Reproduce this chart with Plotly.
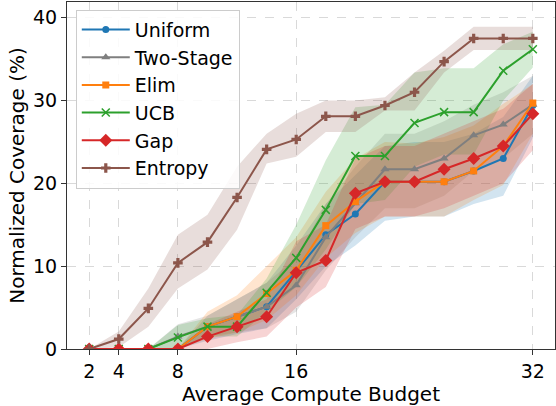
import plotly.graph_objects as go

budget = [2, 4, 6, 8, 10, 12, 14, 16, 18, 20, 22, 24, 26, 28, 30, 32]

uniform = [0, 0, 0, 0, 2.7, 3.9, 5.1, 9.4, 13.8, 16.3, 20.2, 20.2, 20.2, 21.5, 23.0, 29.4]
uniform_lo = [0, 0, 0, 0, 1.0, 1.8, 2.5, 6.0, 10.0, 12.5, 15.5, 16.0, 16.0, 17.5, 18.5, 25.5]
uniform_hi = [0, 0, 0, 0, 4.0, 6.0, 8.0, 12.5, 17.5, 21.0, 24.5, 25.0, 25.0, 26.0, 28.0, 33.0]

two_stage = [0, 0, 0, 1.5, 2.7, 3.9, 5.1, 7.7, 13.5, 17.6, 21.7, 21.7, 23.0, 25.8, 27.1, 29.5]
two_stage_lo = [0, 0, 0, 0, 1.5, 2.0, 2.5, 4.5, 9.5, 13.5, 17.0, 17.0, 18.5, 21.5, 23.0, 26.0]
two_stage_hi = [0, 0, 0, 3.0, 4.0, 6.0, 8.0, 11.0, 17.5, 22.0, 26.0, 26.0, 27.5, 29.5, 31.0, 33.0]

elim = [0, 0, 0, 0, 2.7, 3.9, 6.7, 9.5, 14.9, 17.8, 20.2, 20.2, 20.2, 21.5, 24.5, 29.7]
elim_lo = [0, 0, 0, 0, 1.2, 2.0, 3.5, 6.5, 11.0, 14.0, 16.0, 16.0, 16.0, 18.0, 19.8, 26.0]
elim_hi = [0, 0, 0, 0, 4.5, 6.5, 10.0, 13.5, 19.0, 23.0, 25.0, 24.8, 25.6, 27.0, 29.6, 32.0]

ucb = [0, 0, 0, 1.4, 2.7, 2.7, 6.8, 11.0, 16.8, 23.3, 23.3, 27.3, 28.6, 28.6, 33.6, 36.2]
ucb_lo = [0, 0, 0, 0, 1.5, 1.5, 4.5, 7.5, 12.0, 17.5, 18.0, 22.0, 23.5, 23.5, 30.0, 34.0]
ucb_hi = [0, 0, 0, 2.9, 3.7, 4.1, 8.5, 15.0, 22.8, 29.2, 29.5, 33.4, 33.9, 33.9, 36.8, 38.3]

gap = [0, 0, 0, 0, 1.5, 2.7, 3.9, 9.2, 10.7, 18.8, 20.2, 20.2, 21.7, 23.0, 24.5, 28.4]
gap_lo = [0, 0, 0, 0, 0, 0.8, 1.5, 5.0, 7.5, 14.5, 16.0, 16.0, 17.0, 18.5, 20.0, 24.0]
gap_hi = [0, 0, 0, 0, 3.0, 4.5, 6.0, 13.0, 15.0, 23.0, 24.5, 24.5, 26.0, 27.5, 29.0, 32.0]

entropy = [0, 1.2, 4.9, 10.4, 12.9, 18.3, 24.1, 25.3, 28.1, 28.1, 29.4, 31.0, 34.7, 37.5, 37.5, 37.5]
entropy_lo = [0, 0.2, 2.7, 7.3, 9.6, 14.4, 22.4, 23.2, 26.2, 26.2, 28.8, 28.8, 33.4, 36.1, 36.1, 36.1]
entropy_hi = [0, 2.1, 7.3, 13.8, 16.2, 22.0, 26.0, 28.4, 30.0, 30.0, 30.4, 33.4, 36.0, 38.9, 38.9, 38.9]

x_ticks = [2, 4, 8, 16, 32]
y_ticks = [0, 10, 20, 30, 40]

series = [
    ("Uniform", uniform, uniform_lo, uniform_hi, "#1f77b4", "rgba(31,119,180,0.2)", "circle", 7),
    ("Two-Stage", two_stage, two_stage_lo, two_stage_hi, "#7f7f7f", "rgba(127,127,127,0.2)", "triangle-up", 8),
    ("Elim", elim, elim_lo, elim_hi, "#ff7f0e", "rgba(255,127,14,0.2)", "square", 7),
    ("UCB", ucb, ucb_lo, ucb_hi, "#2ca02c", "rgba(44,160,44,0.2)", "x-thin", 8),
    ("Gap", gap, gap_lo, gap_hi, "#d62728", "rgba(214,39,40,0.2)", "diamond", 10),
    ("Entropy", entropy, entropy_lo, entropy_hi, "#8c564b", "rgba(140,86,75,0.2)", "cross", 8),
]

fig = go.Figure()

for name, vals, lo, hi, col, fcol, sym, sz in series:
    fig.add_trace(go.Scatter(x=budget, y=lo, mode="lines", line=dict(width=0),
                             showlegend=False, hoverinfo="skip"))
    fig.add_trace(go.Scatter(x=budget, y=hi, mode="lines", line=dict(width=0),
                             fill="tonexty", fillcolor=fcol,
                             showlegend=False, hoverinfo="skip"))

for name, vals, lo, hi, col, fcol, sym, sz in series:
    marker = dict(symbol=sym, size=sz, color=col)
    if sym == "x-thin":
        marker["line"] = dict(color=col, width=1.5)
    else:
        marker["line"] = dict(width=0)
    fig.add_trace(go.Scatter(x=budget, y=vals, mode="lines+markers", name=name,
                             line=dict(color=col, width=2), marker=marker))

font_family = "DejaVu Sans"
fig.update_layout(
    width=556, height=406,
    margin=dict(l=67, r=1, t=2, b=57),
    plot_bgcolor="white", paper_bgcolor="white",
    font=dict(family=font_family, size=19, color="black"),
    showlegend=True,
    legend=dict(x=0.018, y=0.978, xanchor="left", yanchor="top",
                traceorder="normal", itemwidth=48,
                bgcolor="rgba(255,255,255,0.85)", bordercolor="#cccccc", borderwidth=1,
                font=dict(size=19), tracegroupgap=0),
)
fig.update_xaxes(
    range=[0.5, 33.5], tickvals=x_ticks, ticktext=[str(v) for v in x_ticks],
    showgrid=True, gridcolor="#d9d9d9", griddash="dash", gridwidth=1,
    showline=True, linecolor="#333333", linewidth=1.2, mirror=True,
    ticks="outside", ticklen=5, tickcolor="#333333",
    zeroline=False,
    title=dict(text="Average Compute Budget", standoff=2, font=dict(size=20)),
)
fig.update_yaxes(
    range=[0, 41.9], tickvals=y_ticks,
    showgrid=True, gridcolor="#d9d9d9", griddash="dash", gridwidth=1,
    showline=True, linecolor="#333333", linewidth=1.2, mirror=True,
    ticks="outside", ticklen=5, tickcolor="#333333",
    zeroline=False,
    title=dict(text="Normalized Coverage (%)", standoff=2, font=dict(size=20)),
)

fig.write_html("out.html", config={"displayModeBar": False},
               post_script="document.body.style.margin='0';document.body.style.padding='0';")
